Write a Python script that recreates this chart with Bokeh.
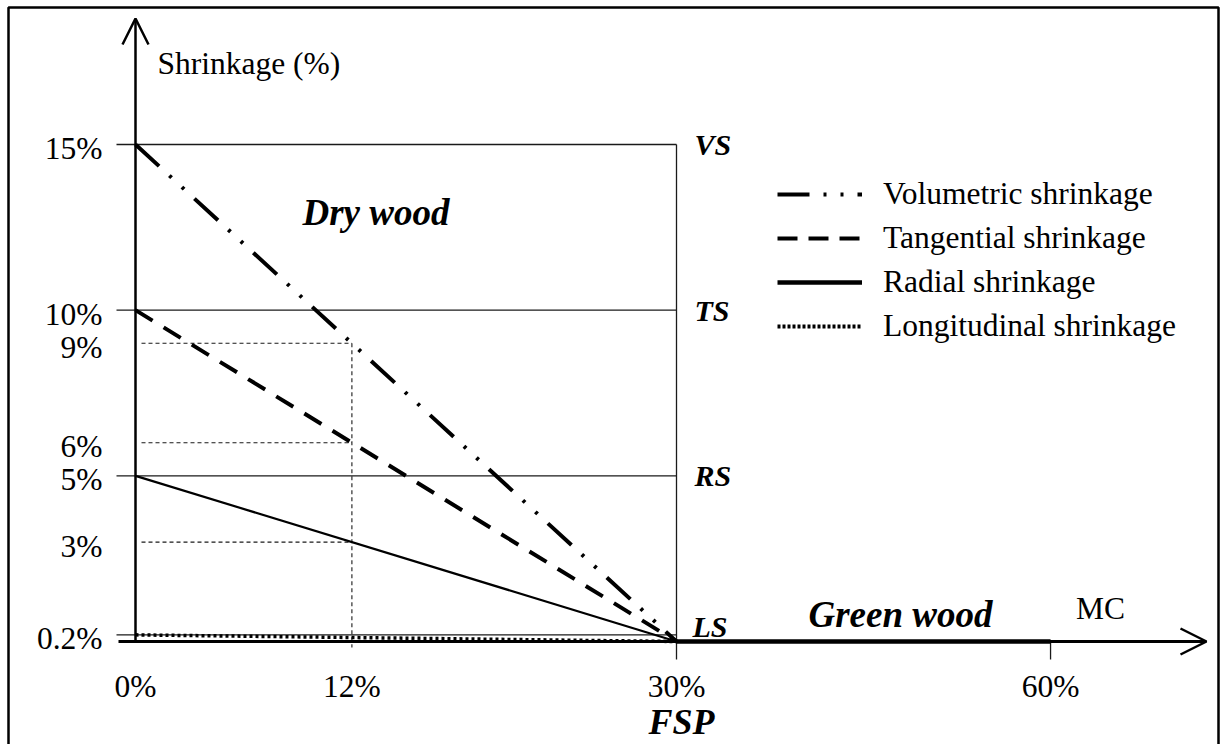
from bokeh.plotting import figure
from bokeh.models import Range1d, Arrow, OpenHead, Legend, LegendItem
from bokeh.core.properties import value
from bokeh.embed import file_html
from bokeh.resources import INLINE

# ---------------- data ----------------
fsp_mc = [0, 30]                      # moisture content (%) from oven-dry to FSP
volumetric = [15, 0]                  # shrinkage (%)
tangential = [10, 0]
radial = [5, 0]
longitudinal = [0.2, 0]
green_mc = [30, 60]                   # above FSP: no shrinkage
green_shrink = [0, 0]
ref_mc = 12                           # example MC
ref_values = [9, 6, 3]                # shrinkage read at 12 % MC
y_ticks = [15, 10, 9, 6, 5, 3, 0.2]
y_tick_labels = ["15%", "10%", "9%", "6%", "5%", "3%", "0.2%"]
x_ticks = [0, 12, 30, 60]
x_tick_labels = ["0%", "12%", "30%", "60%"]
level_values = [15, 10, 5, 0.2]
level_names = ["VS", "TS", "RS", "LS"]
series_names = ["Volumetric shrinkage", "Tangential shrinkage",
                "Radial shrinkage", "Longitudinal shrinkage"]

# ---------------- layout / scale ----------------
W, H = 1220, 744
X0_PX, Y0_PX = 135, 641        # screen position of the origin
X_PX = 541 / 30.0              # px per MC unit up to FSP
Y_PX = 497 / 15.0              # px per shrinkage unit
GREEN_COMPRESS = 0.6914        # schematic compression of the axis above FSP
x_lo = -X0_PX / X_PX
x_hi = x_lo + W / X_PX
y_lo = -(H - Y0_PX) / Y_PX
y_hi = y_lo + H / Y_PX


def xpos(mc):
    return mc if mc <= 30 else 30 + (mc - 30) * GREEN_COMPRESS


def sx(px):   # screen px -> x data
    return x_lo + px / X_PX


def sy(py):   # screen px (from top) -> y data
    return y_hi - py / Y_PX


FONT = value("Liberation Serif")
TXT = "31.5px"

p = figure(width=W, height=H, x_range=Range1d(x_lo, x_hi), y_range=Range1d(y_lo, y_hi),
           output_backend="svg", toolbar_location=None, min_border=0,
           x_axis_location=None, y_axis_location=None, title=None)
p.grid.visible = False
p.outline_line_color = None
p.background_fill_color = "white"
p.border_fill_color = "white"

# picture frame (left, top, right edges)
p.line([sx(8), sx(8), sx(1218), sx(1218)], [y_lo, sy(7), sy(7), y_lo],
       line_color="black", line_width=2.5)

fsp_x = xpos(fsp_mc[1])
thin = dict(line_color="#1a1a1a", line_width=1.3)

# horizontal level lines (VS, TS, RS, LS)
for lv in level_values:
    p.line([sx(116), fsp_x], [lv, lv], **thin)
# vertical line at FSP and tick at 60%
p.line([fsp_x, fsp_x], [level_values[0], sy(659)], **thin)
p.line([xpos(x_ticks[-1])] * 2, [0, sy(659)], **thin)

# dashed guides at 12 % MC
guide = dict(line_color="#1a1a1a", line_width=1.1, line_dash="4 3")
for v in ref_values:
    p.line([sx(141), ref_mc], [v, v], **guide)
p.line([ref_mc, ref_mc], [max(ref_values), sy(647)], **guide)

# axes with open arrow heads
p.add_layout(Arrow(end=OpenHead(size=26, line_width=2.5, line_color="black"),
                   x_start=sx(118), y_start=0, x_end=sx(1206), y_end=0,
                   line_width=3, line_color="black"))
p.add_layout(Arrow(end=OpenHead(size=26, line_width=2.5, line_color="black"),
                   x_start=0, y_start=0, x_end=0, y_end=sy(18),
                   line_width=2.5, line_color="black"))

# shrinkage curves
gx = [xpos(v) for v in green_mc]
p.line(gx, green_shrink, line_color="black", line_width=4.5)
p.line(fsp_mc, longitudinal, line_color="black", line_width=3.5, line_dash="3 3")
p.line(fsp_mc, radial, line_color="black", line_width=2.2)
p.line(fsp_mc, tangential, line_color="black", line_width=4, line_dash="20 13")
p.line(fsp_mc, volumetric, line_color="black", line_width=4, line_dash="32 14 3 14 3 14")

# legend (sample renderers kept outside the visible range)
styles = [("32 14 3 14 3 14", 4), ("20 11", 4), ("solid", 4.5), ("3 2", 4)]
items = []
for name, (dash, w) in zip(series_names, styles):
    r = p.line([x_lo - 10, x_lo - 9], [y_lo - 10, y_lo - 10], line_color="black",
               line_width=w, line_dash=dash)
    items.append(LegendItem(label=name, renderers=[r]))
legend = Legend(items=items, location=(777, 400), glyph_width=85, glyph_height=36,
                label_height=36, label_standoff=21, spacing=8, padding=0, margin=0,
                border_line_color=None, background_fill_alpha=0,
                label_text_font="Liberation Serif", label_text_font_size=TXT,
                label_text_color="black")
p.add_layout(legend)

# tick labels
p.text(x=[0] * len(y_ticks), y=y_ticks, text=y_tick_labels, text_font=FONT,
       text_font_size=TXT, text_align="right", text_baseline="middle",
       x_offset=-33, y_offset=4, text_color="black")
p.text(x=[xpos(v) for v in x_ticks], y=[0] * len(x_ticks), text=x_tick_labels,
       text_font=FONT, text_font_size=TXT, text_align="center",
       text_baseline="middle", y_offset=45, text_color="black")

# axis titles
p.text(x=[0], y=[15], text=["Shrinkage (%)"], text_font=FONT, text_font_size=TXT,
       text_align="left", text_baseline="middle", x_offset=22, y_offset=-81,
       text_color="black")
p.text(x=[xpos(64)], y=[0], text=["MC"], text_font=FONT, text_font_size=TXT,
       text_align="center", text_baseline="middle", y_offset=-33, text_color="black")
p.text(x=[fsp_x], y=[0], text=["FSP"], text_font=FONT, text_font_size="36px",
       text_font_style="bold italic", text_align="center", text_baseline="middle",
       x_offset=5, y_offset=80, text_color="black")

# level names
p.text(x=[fsp_x] * 3, y=level_values[:3], text=level_names[:3], text_font=FONT,
       text_font_size="30px", text_font_style="bold italic", text_align="left",
       text_baseline="middle", x_offset=18, y_offset=0, text_color="black")
p.text(x=[fsp_x], y=[level_values[3]], text=[level_names[3]], text_font=FONT,
       text_font_size="30px", text_font_style="bold italic", text_align="left",
       text_baseline="middle", x_offset=16, y_offset=-8, text_color="black")

# zone names
p.text(x=[sx(302)], y=[sy(212)], text=["Dry wood"], text_font=FONT,
       text_font_size="37px", text_font_style="bold italic", text_align="left",
       text_baseline="middle", text_color="black")
p.text(x=[sx(808)], y=[0], text=["Green wood"], text_font=FONT, text_font_size="37px",
       text_font_style="bold italic", text_align="left", text_baseline="middle",
       y_offset=-27, text_color="black")

open("out.html", "w").write(file_html(p, INLINE))
